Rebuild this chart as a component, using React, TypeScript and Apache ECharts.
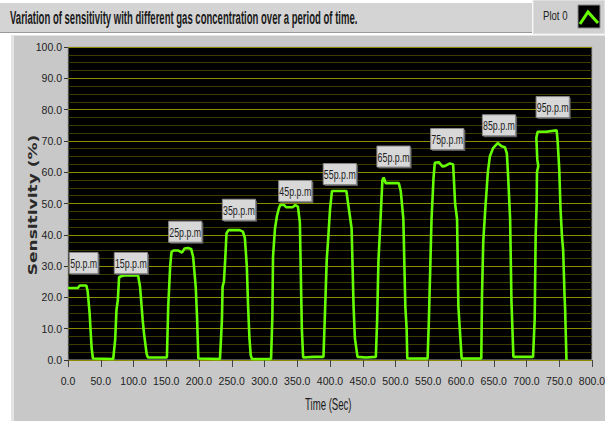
import React, { useEffect, useRef } from "react";
import * as echarts from "echarts";

// Time (Sec) of each sampled point of the response curve
const TIME = [
  0, 15, 18, 28, 30, 33, 36, 38, 69,
  72, 74, 76, 78, 85, 100, 107, 110, 114, 116, 120, 122, 151,
  153, 156, 158, 161, 168, 174, 178, 183, 188, 191, 195, 197, 199, 232,
  235, 236, 238, 240, 242, 245, 262, 267, 270, 273, 275, 277, 279, 281, 310,
  312, 313, 316, 319, 322, 324, 330, 333, 343, 347, 351, 354, 357, 359, 375, 390,
  392, 395, 397, 400, 403, 425, 429, 433, 436, 438, 442, 455, 470,
  472, 474, 476, 480, 482, 485, 490, 505, 508, 512, 515, 517, 518, 549,
  551, 555, 558, 560, 566, 572, 576, 583, 588, 591, 594, 596, 601, 631,
  632, 634, 637, 641, 644, 649, 656, 662, 667, 670, 672, 675, 677, 680, 710,
  711, 712.5, 714, 715.5, 716, 718, 716.5, 715, 717, 730, 740, 746, 747.5, 750, 752, 754, 756, 758, 759, 761,
];

// Sensitivity (%) at each of those times
const SENSITIVITY = [
  23, 23, 23.8, 23.8, 22, 15, 4, 0.5, 0.3,
  6.4, 16, 19, 26.5, 27, 27, 27, 23.4, 12.8, 8.6, 2, 0.8, 0.8,
  17, 30, 34.5, 35, 35, 34.3, 35.6, 35.8, 35.5, 33, 23.4, 13.8, 0.5, 0.3,
  12.8, 23.4, 25, 32, 40.5, 41.5, 41.5, 41, 39, 30, 17, 7, 1.5, 0.3, 0.3,
  14, 33, 42, 46, 48.5, 49.5, 49.5, 48.8, 48.8, 49.5, 49, 44, 10, 0.8, 1, 1,
  13, 32, 38, 48, 54, 54, 48, 42, 17, 7, 1, 0.8, 1,
  13, 32, 40, 57.5, 58.3, 56.5, 56.5, 56.5, 54, 45, 17, 10, 0.5, 0.5,
  13, 45, 58, 63, 63.2, 61.8, 62, 62.8, 62.5, 50, 45, 17, 0.5, 0.5,
  20, 38, 48, 60, 65, 67.7, 69.3, 68.3, 68, 66, 58.5, 45, 19, 1, 1,
  1, 13, 40, 50, 60, 62, 64, 71, 72.9, 72.9, 73.2, 73.4, 70, 61, 48, 40, 35, 21, 16, 0,
];

// Concentration annotations
const LABEL_TEXTS = ["5p.p.m", "15p.p.m", "25p.p.m", "35p.p.m", "45p.p.m", "55p.p.m", "65p.p.m", "75p.p.m", "85p.p.m", "95p.p.m"];
const LABEL_TIMES = [24, 96, 179, 261, 347, 415, 497, 579, 658, 740];
const LABEL_LEVELS = [31, 31, 41, 48, 54, 59.4, 65, 70.6, 75, 80.8];

const X_MIN = 0;
const X_MAX = 800;
const X_STEP = 50;
const Y_MIN = 0;
const Y_MAX = 100;
const Y_STEP = 10;

const TITLE = "Variation of sensitivity with different gas concentration over a period of time.";
const SERIES_NAME = "Plot 0";
const X_NAME = "Time (Sec)";
const Y_NAME = "Sensitivity (%)";

const SANS = '"Liberation Sans", Arial, sans-serif';

export default function App() {
  const ref = useRef<HTMLDivElement>(null);

  useEffect(() => {
    if (!ref.current) return;
    const chart = echarts.init(ref.current, null, { renderer: "svg" });

    const lineData = TIME.map((t, i) => [t, SENSITIVITY[i]]);
    const labelData = LABEL_TEXTS.map((txt, i) => ({ name: txt, value: [LABEL_TIMES[i], LABEL_LEVELS[i]] }));

    chart.setOption({
      animation: false,
      backgroundColor: "#ffffff",
      grid: {
        left: 68,
        top: 47,
        right: 13,
        bottom: 61,
        show: true,
        backgroundColor: "#000000",
        borderColor: "#a8a8a8",
        borderWidth: 1,
        containLabel: false,
        outerBoundsMode: "none",
      },
      xAxis: {
        type: "value",
        min: X_MIN,
        max: X_MAX,
        interval: X_STEP,
        offset: 5,
        axisLine: { show: false },
        axisTick: { show: true, length: 7, lineStyle: { color: "#444", width: 1 } },
        axisLabel: {
          margin: 10,
          color: "#1e1e1e",
          fontFamily: SANS,
          fontSize: 10.5,
          formatter: (v: number) => v.toFixed(1),
        },
        splitLine: { show: false },
      },
      yAxis: {
        type: "value",
        min: Y_MIN,
        max: Y_MAX,
        interval: Y_STEP,
        axisLine: { show: false },
        axisTick: { show: true, length: 4, lineStyle: { color: "#333", width: 1 } },
        axisLabel: {
          margin: 6,
          color: "#1e1e1e",
          fontFamily: SANS,
          fontSize: 10.5,
          formatter: (v: number) => v.toFixed(1),
        },
        splitLine: { show: true, lineStyle: { color: "#8c8c00", width: 1.2 } },
        minorTick: { show: false, splitNumber: 4 },
        minorSplitLine: { show: true, lineStyle: { color: "#3d3d00", width: 1 } },
      },
      series: [
        {
          name: SERIES_NAME,
          type: "line",
          data: lineData,
          showSymbol: false,
          symbol: "none",
          clip: true,
          z: 2,
          lineStyle: { color: "#66ff00", width: 2.6 },
          itemStyle: { color: "#66ff00" },
        },
        {
          name: "labels",
          type: "custom",
          data: labelData,
          z: 5,
          clip: false,
          renderItem: (params: any, api: any) => {
            const pt = api.coord([api.value(0), api.value(1)]);
            const txt = LABEL_TEXTS[params.dataIndex];
            const w = txt.length * 4.6 + 1;
            return {
              type: "group",
              x: pt[0],
              y: pt[1],
              children: [
                {
                  type: "rect",
                  shape: { x: -w / 2 + 1.5, y: -9, width: w, height: 21 },
                  style: { fill: "#5a5a5a" },
                },
                {
                  type: "rect",
                  shape: { x: -w / 2, y: -10.5, width: w, height: 21 },
                  style: { fill: "#d8d8d8", stroke: "#8a8a8a", lineWidth: 1 },
                },
                {
                  type: "text",
                  x: 0,
                  y: 0.5,
                  scaleX: 0.68,
                  style: {
                    text: txt,
                    font: `13px ${SANS}`,
                    fill: "#1e1e1e",
                    align: "center",
                    verticalAlign: "middle",
                  },
                },
              ],
            };
          },
        },
      ],
      graphic: [
        { type: "rect", z: -5, shape: { x: 0, y: 3, width: 532, height: 30 }, style: { fill: "#d4d4d4" } },
        { type: "line", z: -4, shape: { x1: 0, y1: 32.5, x2: 532, y2: 32.5 }, style: { stroke: "#9a9a9a", lineWidth: 1 } },
        { type: "rect", z: -5, shape: { x: 533, y: 0, width: 72, height: 34 }, style: { fill: "#d0d0d0", stroke: "#eeeeee", lineWidth: 1 } },
        { type: "rect", z: -5, shape: { x: 11, y: 35, width: 594, height: 386 }, style: { fill: "#c8c8c8" } },
        { type: "rect", z: -4, shape: { x: 11, y: 35, width: 3, height: 386 }, style: { fill: "#e4e4e4" } },
        { type: "line", z: -4, shape: { x1: 11, y1: 35.5, x2: 605, y2: 35.5 }, style: { stroke: "#e4e4e4", lineWidth: 1 } },
        { type: "rect", z: 10, shape: { x: 578, y: 5, width: 22, height: 23 }, style: { fill: "#000000", stroke: "#8a8a8a", lineWidth: 1 } },
        {
          type: "polyline",
          z: 11,
          shape: { points: [[580, 24], [588, 12], [598, 23]] },
          style: { stroke: "#66ff00", lineWidth: 3, fill: null },
        },
        {
          type: "text",
          z: 10,
          x: 543,
          y: 16,
          scaleX: 0.8,
          style: { text: SERIES_NAME, font: `12px ${SANS}`, fill: "#222222", verticalAlign: "middle", align: "left" },
        },
        {
          type: "text",
          z: 10,
          x: 10,
          y: 18,
          scaleX: 0.53,
          style: { text: TITLE, font: `bold 18px ${SANS}`, fill: "#1a1a1a", verticalAlign: "middle", align: "left" },
        },
        {
          type: "text",
          z: 10,
          x: 33,
          y: 205,
          rotation: Math.PI / 2,
          scaleX: 1.42,
          style: { text: Y_NAME, font: 'bold 12px "DejaVu Sans", sans-serif', fill: "#2a2a2a", verticalAlign: "middle", align: "center" },
        },
        {
          type: "text",
          z: 10,
          x: 305,
          y: 405,
          scaleX: 0.6,
          style: { text: X_NAME, font: `16px ${SANS}`, fill: "#1a1a1a", verticalAlign: "middle", align: "left" },
        },
      ],
    });

    return () => chart.dispose();
  }, []);

  return <div ref={ref} style={{ position: "fixed", left: 0, top: 0, width: 605, height: 421 }} />;
}
